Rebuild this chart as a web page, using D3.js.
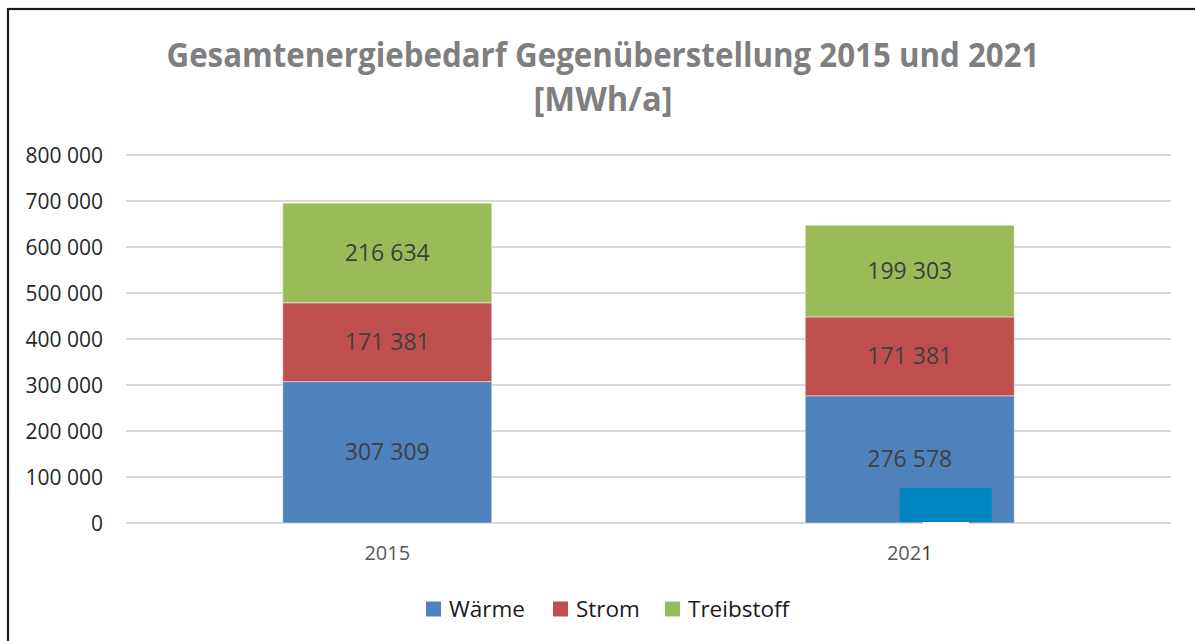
<!DOCTYPE html>
<html>
<head>
<meta charset="utf-8">
<script src="https://cdn.jsdelivr.net/npm/d3@7"></script>
<style>
  html, body { margin: 0; padding: 0; background: #fff; }
  svg { display: block; }
</style>
</head>
<body>
<svg id="chart" width="1195" height="641"></svg>
<script>
// Energy demand by carrier [MWh/a]
const years = ["2015", "2021"];
const series = ["Wärme", "Strom", "Treibstoff"];
const waerme = [307309, 276578];
const strom = [171381, 171381];
const treibstoff = [216634, 199303];
const yTicks = [0, 100000, 200000, 300000, 400000, 500000, 600000, 700000, 800000];
const colors = ["#4f81bd", "#c0504d", "#9bbb59"];

const rows = years.map((y, i) => ({
  year: y,
  "Wärme": waerme[i],
  "Strom": strom[i],
  "Treibstoff": treibstoff[i]
}));

const W = 1195, H = 641;
const plot = { left: 126, right: 1171, top: 155, bottom: 523 };
const svg = d3.select("#chart");

// Frame around the chart area
svg.append("rect")
  .attr("x", 8).attr("y", 9)
  .attr("width", W + 10).attr("height", H + 10)
  .attr("fill", "none").attr("stroke", "#1a1a1a").attr("stroke-width", 2.2);

const x = d3.scaleBand().domain(years).range([plot.left, plot.right]).paddingInner(0).paddingOuter(0);
const barW = x.bandwidth() * 0.4;
const y = d3.scaleLinear().domain([0, 800000]).range([plot.bottom, plot.top]);

const fmt = v => d3.format(",")(v).replace(/,/g, " ");
const font = "'Open Sans', 'Noto Sans', sans-serif";

// Gridlines
svg.append("g").selectAll("line").data(yTicks).join("line")
  .attr("x1", plot.left).attr("x2", plot.right)
  .attr("y1", d => y(d)).attr("y2", d => y(d))
  .attr("stroke", "#d9d9d9").attr("stroke-width", 2);

// Y axis labels
const yAxis = d3.axisLeft(y).tickValues(yTicks).tickFormat(fmt).tickSize(0).tickPadding(0);
const gy = svg.append("g").attr("transform", "translate(103,0)").call(yAxis);
gy.select(".domain").remove();
gy.selectAll("text")
  .attr("font-family", font).attr("font-size", 21).attr("fill", "#262626")
  .attr("dy", "0.35em");

// Stacked bars
const stack = d3.stack().keys(series)(rows);
const layers = svg.append("g").selectAll("g").data(stack).join("g")
  .attr("fill", (d, i) => colors[i]);
layers.selectAll("rect").data(d => d).join("rect")
  .attr("x", d => x(d.data.year) + (x.bandwidth() - barW) / 2)
  .attr("width", barW)
  .attr("y", d => y(d[1]))
  .attr("height", d => y(d[0]) - y(d[1]))
  .attr("stroke", "#ffffff").attr("stroke-opacity", 0.45).attr("stroke-width", 1);

// Overlay patch in the lower part of the 2021 column
const patchX = x("2021") + x.bandwidth() / 2;
svg.append("rect")
  .attr("x", patchX - 10).attr("width", 92)
  .attr("y", y(76000)).attr("height", y(0) - y(76000) - 1)
  .attr("fill", "#0086bf");
svg.append("rect")
  .attr("x", patchX + 13).attr("width", 46)
  .attr("y", y(0) - 1).attr("height", 4)
  .attr("fill", "#ffffff");

// Value labels inside segments
layers.selectAll("text").data(d => d).join("text")
  .attr("x", d => x(d.data.year) + x.bandwidth() / 2)
  .attr("y", d => y((d[0] + d[1]) / 2))
  .attr("text-anchor", "middle").attr("dy", "0.35em")
  .attr("font-family", font).attr("font-size", 23).attr("fill", "#404040")
  .text(d => fmt(d[1] - d[0]));

// Category labels
const gx = svg.append("g").attr("transform", `translate(0,${plot.bottom})`)
  .call(d3.axisBottom(x).tickSize(0).tickPadding(0));
gx.select(".domain").remove();
gx.selectAll("text")
  .attr("y", 30).attr("dy", "0.35em")
  .attr("font-family", font).attr("font-size", 20).attr("fill", "#595959")
  .each(function(d) {
    if (d === "2021") {
      const t = d3.select(this).text(null);
      t.append("tspan").text(d.slice(0, 3));
      t.append("tspan").attr("fill", "#3d3826").text(d.slice(3));
    }
  });

// Title
const title = svg.append("g").attr("font-family", "'Liberation Sans Narrow', 'Open Sans', sans-serif")
  .attr("font-weight", "bold").attr("fill", "#7f7f7f").attr("text-anchor", "middle");
title.append("text").attr("x", 603).attr("y", 67).attr("font-size", 34)
  .attr("textLength", 873).attr("lengthAdjust", "spacingAndGlyphs")
  .text("Gesamtenergiebedarf Gegenüberstellung 2015 und 2021");
title.append("text").attr("x", 603).attr("y", 111).attr("font-size", 34)
  .attr("textLength", 139).attr("lengthAdjust", "spacingAndGlyphs")
  .text("[MWh/a]");

// Legend
const legendX = [426, 553, 665];
const lg = svg.append("g").selectAll("g").data(series).join("g")
  .attr("transform", (d, i) => `translate(${legendX[i]},609)`);
lg.append("rect").attr("x", 0).attr("y", -7.5).attr("width", 15).attr("height", 15)
  .attr("fill", (d, i) => colors[i]);
lg.append("text").attr("x", 23).attr("dy", "0.35em")
  .attr("font-family", font).attr("font-size", 22.5).attr("fill", "#1a1a1a")
  .text(d => d);
</script>
</body>
</html>
